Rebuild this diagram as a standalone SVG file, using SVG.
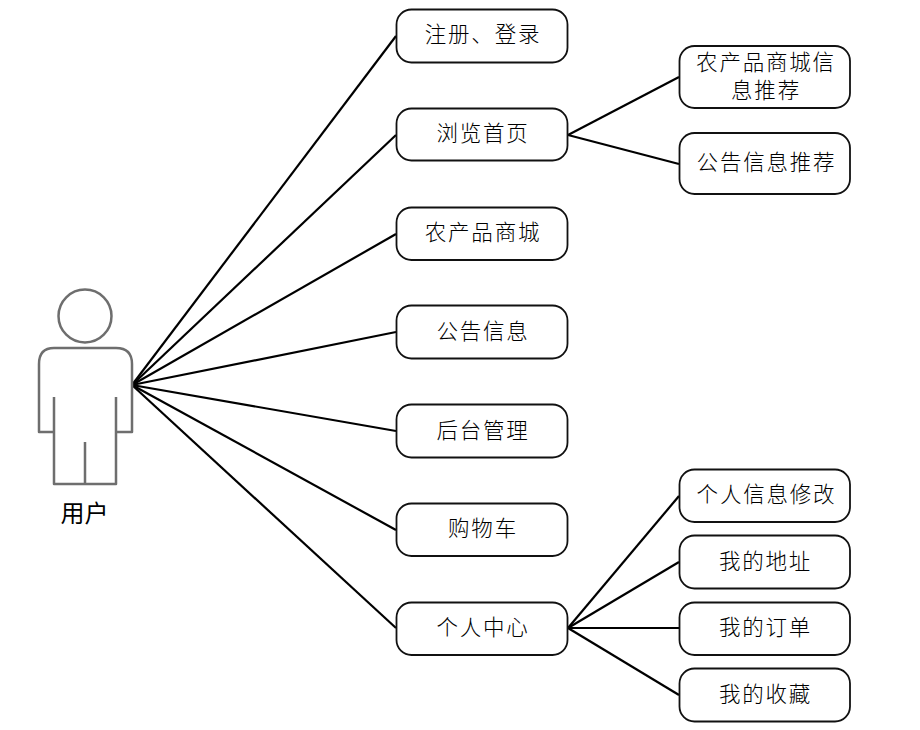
<svg xmlns="http://www.w3.org/2000/svg" width="920" height="730" viewBox="0 0 920 730">
<style>
.n rect{fill:#fff;stroke:#111;stroke-width:1.8}
text{font-family:"Noto Sans CJK SC","Liberation Serif",serif;font-size:21.5px;font-weight:300;fill:#000;text-anchor:middle;letter-spacing:1.8px}
#actor text{font-size:24px;letter-spacing:0;font-weight:400}
#connectors line{stroke:#000;stroke-width:2.2}
.actor{fill:#fff;stroke:#6e6e6e;stroke-width:2.5;stroke-linejoin:round}
</style>
<rect width="920" height="730" fill="#fff"/>
<g id="connectors">
<line x1="132" y1="385" x2="396" y2="36"/><line x1="132" y1="385" x2="396" y2="135"/><line x1="132" y1="385" x2="396" y2="234"/><line x1="132" y1="385" x2="396" y2="332"/><line x1="132" y1="385" x2="396" y2="431"/><line x1="132" y1="385" x2="396" y2="530"/><line x1="132" y1="385" x2="396" y2="628"/>
<line x1="568" y1="135" x2="679" y2="77"/><line x1="568" y1="135" x2="679" y2="164"/>
<line x1="568" y1="628" x2="679" y2="496"/><line x1="568" y1="628" x2="679" y2="562"/><line x1="568" y1="628" x2="679" y2="628"/><line x1="568" y1="628" x2="679" y2="695"/>
</g>
<g id="actor">
<circle class="actor" cx="85" cy="316" r="26.500"/>
<path class="actor" d="M54 348H116Q132 348 132 364V432H116V397M116 432V484H54V397M54 432H39V364Q39 348 54 348M85 442V484"/>
<text x="84.500" y="522">用户</text>
</g>
<g id="n1" class="n"><rect x="396.500" y="9.500" width="171" height="53" rx="15"/><text x="483" y="42">注册、登录</text></g>
<g id="n2" class="n"><rect x="396.500" y="108.500" width="171" height="52" rx="15"/><text x="483" y="141">浏览首页</text></g>
<g id="n3" class="n"><rect x="396.500" y="207.500" width="171" height="52.500" rx="15"/><text x="483" y="240">农产品商城</text></g>
<g id="n4" class="n"><rect x="396.500" y="305.500" width="171" height="53" rx="15"/><text x="483" y="339">公告信息</text></g>
<g id="n5" class="n"><rect x="396.500" y="404.500" width="171" height="53" rx="15"/><text x="483" y="438">后台管理</text></g>
<g id="n6" class="n"><rect x="396.500" y="503.500" width="171" height="52.500" rx="15"/><text x="483" y="536">购物车</text></g>
<g id="n7" class="n"><rect x="396.500" y="602.500" width="171" height="52.500" rx="15"/><text x="483" y="635">个人中心</text></g>
<g id="n8" class="n"><rect x="679.500" y="46" width="170.500" height="62" rx="15"/><text x="766" y="70">农产品商城信</text><text x="766" y="98">息推荐</text></g>
<g id="n9" class="n"><rect x="679.500" y="133" width="170.500" height="61" rx="15"/><text x="766.500" y="170">公告信息推荐</text></g>
<g id="n10" class="n"><rect x="679.500" y="469.500" width="170.500" height="52.500" rx="15"/><text x="766.500" y="502">个人信息修改</text></g>
<g id="n11" class="n"><rect x="679.500" y="535.500" width="170.500" height="53" rx="15"/><text x="765.500" y="569">我的地址</text></g>
<g id="n12" class="n"><rect x="679.500" y="602.500" width="170.500" height="52.500" rx="15"/><text x="765.500" y="635">我的订单</text></g>
<g id="n13" class="n"><rect x="679.500" y="668.500" width="170.500" height="53" rx="15"/><text x="765.500" y="702">我的收藏</text></g>
</svg>
